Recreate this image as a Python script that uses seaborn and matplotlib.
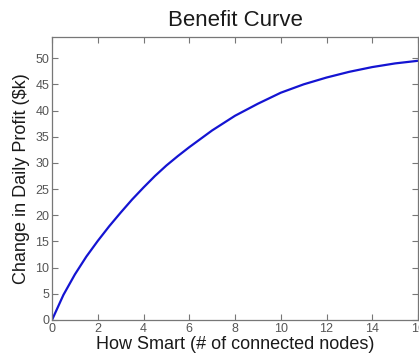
import matplotlib
matplotlib.use("Agg")
import matplotlib.pyplot as plt
import seaborn as sns
import pandas as pd

# Benefit curve: profit change vs. number of connected nodes
nodes = [0, 0.5, 1, 1.5, 2, 2.5, 3, 3.5, 4, 4.5, 5, 5.5, 6, 7, 8, 9, 10,
         11, 12, 13, 14, 15, 16]
profit = [0, 4.8, 8.7, 12.1, 15.1, 17.9, 20.5, 23.0, 25.3, 27.5, 29.5,
          31.3, 33.0, 36.2, 39.0, 41.3, 43.4, 45.0, 46.3, 47.4, 48.3,
          49.0, 49.5]
x_ticks = [0, 2, 4, 6, 8, 10, 12, 14, 16]
y_ticks = [0, 5, 10, 15, 20, 25, 30, 35, 40, 45, 50]

sns.set_theme(style="white")
plt.rcParams["font.family"] = ["Liberation Sans", "DejaVu Sans"]

df = pd.DataFrame({"nodes": nodes, "profit": profit})

fig = plt.figure(figsize=(4.19, 3.57), dpi=100)
ax = fig.add_axes([52 / 419, 37 / 357, 366 / 419, 283.3 / 357])

sns.lineplot(data=df, x="nodes", y="profit", ax=ax, color="#1414d2",
             linewidth=1.6)

ax.set_xlim(0, 16)
ax.set_ylim(0, 54.1)
ax.set_xticks(x_ticks)
ax.set_yticks(y_ticks)

ax.tick_params(direction="in", length=4, width=0.8, colors="#777777",
               labelcolor="#555555", labelsize=9, top=True, right=True,
               bottom=True, left=True, pad=2)
for side in ax.spines.values():
    side.set_color("#777777")
    side.set_linewidth(0.9)

ax.set_title("Benefit Curve", fontsize=16, color="#1a1a1a", pad=8)
ax.set_xlabel("How Smart (# of connected nodes)", fontsize=13,
              color="#1a1a1a", labelpad=1)
ax.set_ylabel("Change in Daily Profit ($k)", fontsize=13,
              color="#1a1a1a", labelpad=4)

fig.savefig("out.png", dpi=100)
